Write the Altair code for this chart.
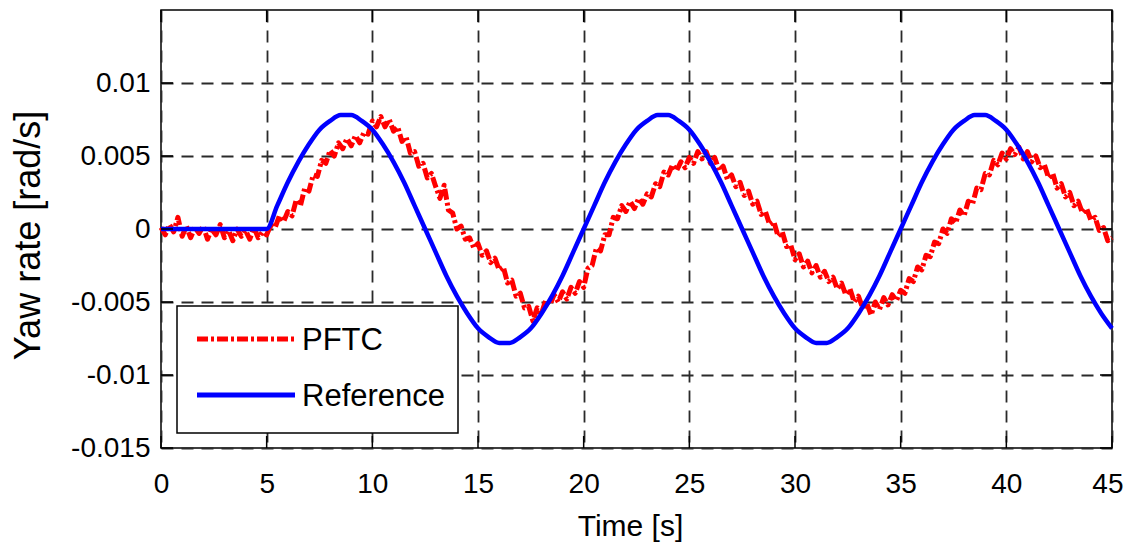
import altair as alt
import pandas as pd

# ---------------- data ----------------
pftc_step = 0.2  # s between PFTC samples
pftc_values = [
    0.0001, -0.0004, 0.0003, -0.0002, 0.0008, -0.0005, 0.0002, -0.0006, 0.0001, -0.0003,
    0.0002, -0.0007, 0.0000, -0.0004, 0.0003, -0.0006, -0.0001, -0.0008, 0.0000, -0.0005,
    -0.0001, -0.0007, 0.0001, -0.0006, -0.0002, -0.0004,
    0.0003, 0.0001, 0.0009, 0.0005, 0.0012, 0.0009, 0.0020, 0.0016, 0.0028, 0.0026,
    0.0037, 0.0036, 0.0047, 0.0045, 0.0054, 0.0050, 0.0059, 0.0055, 0.0062, 0.0057,
    0.0064, 0.0059, 0.0066, 0.0065, 0.0074,
    0.0070, 0.0077, 0.0070, 0.0075, 0.0067, 0.0070, 0.0060, 0.0063, 0.0052, 0.0053,
    0.0043, 0.0045, 0.0035, 0.0038, 0.0029, 0.0021, 0.0030, 0.0013, 0.0011, 0.0000,
    0.0002, -0.0007, -0.0006, -0.0013, -0.0010,
    -0.0018, -0.0015, -0.0023, -0.0020, -0.0028, -0.0026, -0.0037, -0.0035, -0.0046, -0.0044,
    -0.0054, -0.0053, -0.0063, -0.0054, -0.0058, -0.0049, -0.0052, -0.0045, -0.0050, -0.0043,
    -0.0048, -0.0040, -0.0044, -0.0036, -0.0040,
    -0.0027, -0.0025, -0.0013, -0.0015, -0.0004, -0.0004, 0.0008, 0.0007, 0.0016, 0.0012,
    0.0019, 0.0014, 0.0021, 0.0017, 0.0024, 0.0022, 0.0031, 0.0029, 0.0039, 0.0037,
    0.0044, 0.0040, 0.0046, 0.0042, 0.0049,
    0.0045, 0.0053, 0.0048, 0.0053, 0.0045, 0.0049, 0.0040, 0.0043, 0.0034, 0.0037,
    0.0029, 0.0032, 0.0023, 0.0026, 0.0017, 0.0019, 0.0010, 0.0012, 0.0003, 0.0005,
    -0.0005, -0.0002, -0.0012, -0.0011, -0.0021,
    -0.0017, -0.0026, -0.0022, -0.0030, -0.0025, -0.0033, -0.0029, -0.0036, -0.0033, -0.0041,
    -0.0037, -0.0045, -0.0041, -0.0050, -0.0046, -0.0054, -0.0051, -0.0059, -0.0050, -0.0055,
    -0.0047, -0.0052, -0.0045, -0.0049, -0.0042,
    -0.0044, -0.0034, -0.0036, -0.0026, -0.0028, -0.0018, -0.0019, -0.0009, -0.0010, 0.0000,
    -0.0003, 0.0007, 0.0004, 0.0013, 0.0009, 0.0019, 0.0017, 0.0028, 0.0027, 0.0038,
    0.0037, 0.0047, 0.0044, 0.0052, 0.0048,
    0.0055, 0.0051, 0.0056, 0.0048, 0.0053, 0.0046, 0.0050, 0.0042, 0.0044, 0.0035,
    0.0038, 0.0028, 0.0031, 0.0022, 0.0025, 0.0016, 0.0019, 0.0011, 0.0014, 0.0006,
    0.0008, -0.0001, 0.0001, -0.0008, -0.0006,
]

ref_step = 0.5  # s between Reference samples
ref_values = [
    0.0, 0.0, 0.0, 0.0, 0.0, 0.0, 0.0, 0.0, 0.0, 0.0, 0.0,
    0.0016, 0.0032, 0.0046, 0.0058, 0.0068, 0.0074, 0.0078, 0.0078, 0.0074, 0.0068,
    0.0058, 0.0046, 0.0032, 0.0016, 0.0, -0.0016, -0.0032, -0.0046, -0.0058, -0.0068,
    -0.0074, -0.0078, -0.0078, -0.0074, -0.0068, -0.0058, -0.0046, -0.0032, -0.0016, 0.0,
    0.0016, 0.0032, 0.0046, 0.0058, 0.0068, 0.0074, 0.0078, 0.0078, 0.0074, 0.0068,
    0.0058, 0.0046, 0.0032, 0.0016, 0.0, -0.0016, -0.0032, -0.0046, -0.0058, -0.0068,
    -0.0074, -0.0078, -0.0078, -0.0074, -0.0068, -0.0058, -0.0046, -0.0032, -0.0016, 0.0,
    0.0016, 0.0032, 0.0046, 0.0058, 0.0068, 0.0074, 0.0078, 0.0078, 0.0074, 0.0068,
    0.0058, 0.0046, 0.0032, 0.0016, 0.0,
    -0.0016, -0.0032, -0.0046, -0.0058, -0.0068,
]

x_ticks = [0, 5, 10, 15, 20, 25, 30, 35, 40, 45]
y_ticks = [-0.015, -0.01, -0.005, 0, 0.005, 0.01]
legend_labels = ["PFTC", "Reference"]
x_title = "Time [s]"
y_title = "Yaw rate [rad/s]"

# ---------------- style ----------------
W, H = 951, 438
FONT = "Liberation Sans, Arial, Helvetica, sans-serif"
RED = "#ff0000"
BLUE = "#0000ff"
GRID = "#2a2a2a"
DASH_DOT = [11, 3, 3, 3]

pftc_df = pd.DataFrame({
    "t": [round(i * pftc_step, 2) for i in range(len(pftc_values))],
    "v": pftc_values,
})
ref_df = pd.DataFrame({
    "t": [round(i * ref_step, 2) for i in range(len(ref_values))],
    "v": ref_values,
})
xt_df = pd.DataFrame({"t": x_ticks})
yt_df = pd.DataFrame({"v": y_ticks})
one = pd.DataFrame({"k": [0]})

xscale = alt.Scale(domain=[0, 45], nice=False, zero=False)
yscale = alt.Scale(domain=[-0.015, 0.015], nice=False, zero=False)

last_x = "datum.value == %d" % x_ticks[-1]
x_axis = alt.Axis(
    values=x_ticks, grid=True, gridDash=[12, 8], gridColor=GRID, gridWidth=1.8,
    gridOpacity=1, ticks=False, domain=False,
    labelFont=FONT, labelFontSize=28, labelColor="black", labelPadding=44,
    labelBaseline="alphabetic", labelFlush=False,
    labelAlign={"condition": {"test": last_x, "value": "right"}, "value": "center"},
    labelOffset={"condition": {"test": last_x, "value": 11}, "value": 0},
    title=x_title, titleFont=FONT, titleFontSize=30, titleFontWeight="normal",
    titleColor="black", titleX=469, titleY=87, titleBaseline="alphabetic",
)
y_axis = alt.Axis(
    values=y_ticks, grid=True, gridDash=[12, 8], gridColor=GRID, gridWidth=1.8,
    gridOpacity=1, ticks=False, domain=False,
    labelFont=FONT, labelFontSize=28, labelColor="black", labelPadding=11,
    labelExpr="replace(format(datum.value, '~g'), '\u2212', '-')", labelFlush=False,
    title=y_title, titleFont=FONT, titleFontSize=36, titleFontWeight="normal",
    titleColor="black", titleX=-133, titleY=H / 2 + 6, titleBaseline="middle",
    titleAngle=270,
)

pftc = alt.Chart(pftc_df).mark_line(
    color=RED, strokeWidth=5, strokeDash=DASH_DOT, strokeJoin="round"
).encode(x=alt.X("t:Q", scale=xscale, axis=x_axis),
         y=alt.Y("v:Q", scale=yscale, axis=y_axis))

ref = alt.Chart(ref_df).mark_line(
    color=BLUE, strokeWidth=4.5, interpolate="monotone"
).encode(x=alt.X("t:Q", scale=xscale), y=alt.Y("v:Q", scale=yscale))

# inward ticks on all four sides
tick_len = 12
xt_bottom = alt.Chart(xt_df).mark_rule(color="black", strokeWidth=1.5).encode(
    x=alt.X("t:Q", scale=xscale), y=alt.value(H - tick_len), y2=alt.value(H))
xt_top = alt.Chart(xt_df).mark_rule(color="black", strokeWidth=1.5).encode(
    x=alt.X("t:Q", scale=xscale), y=alt.value(0), y2=alt.value(tick_len))
yt_left = alt.Chart(yt_df).mark_rule(color="black", strokeWidth=1.5).encode(
    y=alt.Y("v:Q", scale=yscale), x=alt.value(0), x2=alt.value(tick_len))
yt_right = alt.Chart(yt_df).mark_rule(color="black", strokeWidth=1.5).encode(
    y=alt.Y("v:Q", scale=yscale), x=alt.value(W - tick_len), x2=alt.value(W))

# legend box
lx0, lx1, ly0, ly1 = 16, 297, 296, 423
leg_box = alt.Chart(one).mark_rect(
    fill="white", stroke="black", strokeWidth=1.5
).encode(x=alt.value(lx0), x2=alt.value(lx1), y=alt.value(ly0), y2=alt.value(ly1))
leg_line1 = alt.Chart(one).mark_rule(
    color=RED, strokeWidth=5, strokeDash=DASH_DOT
).encode(x=alt.value(36), x2=alt.value(134), y=alt.value(329))
leg_line2 = alt.Chart(one).mark_rule(color=BLUE, strokeWidth=5).encode(
    x=alt.value(36), x2=alt.value(134), y=alt.value(385))
leg_t1 = alt.Chart(one).mark_text(
    text=legend_labels[0], font=FONT, fontSize=31, align="left",
    baseline="middle", color="black"
).encode(x=alt.value(141), y=alt.value(331))
leg_t2 = alt.Chart(one).mark_text(
    text=legend_labels[1], font=FONT, fontSize=31, align="left",
    baseline="middle", color="black"
).encode(x=alt.value(141), y=alt.value(387))

chart = alt.layer(
    pftc, ref, xt_bottom, xt_top, yt_left, yt_right,
    leg_box, leg_line1, leg_line2, leg_t1, leg_t2,
).properties(
    width=W, height=H,
    autosize=alt.AutoSizeParams(type="none"),
    padding={"left": 153, "top": 2, "right": 12, "bottom": 95},
    background="white",
).configure_view(stroke="black", strokeWidth=1.5)

chart.save("out.html", embed_options={"renderer": "svg", "actions": False})
